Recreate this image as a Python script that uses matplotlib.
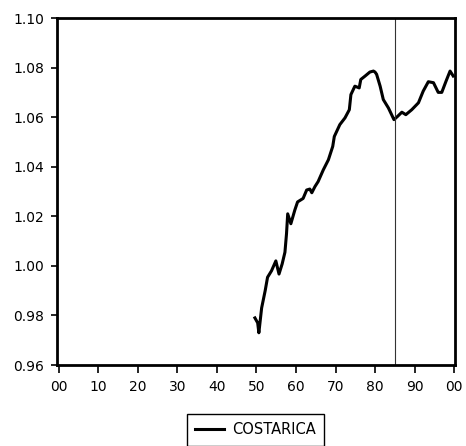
import matplotlib.pyplot as plt

plt.rcParams['font.family'] = ['DejaVu Sans']

years = [1949.6, 1950.3, 1950.6, 1951.3, 1952.2, 1952.8, 1953.8, 1954.9, 1955.7,
         1956.5, 1957.2, 1957.6, 1957.9, 1958.7, 1959.7, 1960.4, 1961.8, 1962.7,
         1963.5, 1964.0, 1964.8, 1965.6, 1966.9, 1968.2, 1969.3, 1969.7, 1971.1,
         1972.4, 1973.5, 1973.9, 1974.9, 1976.0, 1976.4, 1977.5, 1978.7, 1979.6,
         1980.0, 1980.4, 1981.3, 1982.1, 1983.4, 1984.8, 1985.7, 1986.8, 1987.8,
         1989.3, 1991.0, 1992.2, 1993.5, 1994.8, 1996.0, 1996.9, 1998.0, 1999.0,
         1999.8]
costarica = [0.979, 0.977, 0.973, 0.983, 0.990, 0.9954, 0.998, 1.002, 0.9967,
             1.0008, 1.0055, 1.013, 1.021, 1.017, 1.0225, 1.0258, 1.0272, 1.0306,
             1.0310, 1.0295, 1.032, 1.034, 1.0387, 1.0428, 1.0482, 1.0522, 1.057,
             1.0597, 1.063, 1.0691, 1.0725, 1.0718, 1.0752, 1.0766, 1.0782, 1.0786,
             1.0782, 1.0773, 1.0725, 1.0671, 1.0637, 1.059, 1.0603, 1.062, 1.061,
             1.063, 1.0658, 1.0705, 1.0743, 1.0739, 1.070, 1.070, 1.0746, 1.0786,
             1.0766]
break_year = 1985

xticks = list(range(1900, 2001, 10))
xlabels = ['00', '10', '20', '30', '40', '50', '60', '70', '80', '90', '00']
yticks = [0.96, 0.98, 1.00, 1.02, 1.04, 1.06, 1.08, 1.10]

fig = plt.figure(figsize=(4.66, 4.46), dpi=100)
ax = fig.add_axes([0.1223, 0.1816, 0.8541, 0.778])

ax.plot(years, costarica, color='black', lw=2.2, label='COSTARICA')
ax.axvline(break_year, color='#333333', lw=0.8)

ax.set_xlim(1899.5, 2000.25)
ax.set_ylim(0.96, 1.10)
ax.set_xticks(xticks)
ax.set_xticklabels(xlabels)
ax.set_yticks(yticks)
ax.set_yticklabels(['%.2f' % v for v in yticks])

for s in ax.spines.values():
    s.set_linewidth(2.0)
ax.tick_params(axis='x', direction='out', length=6, width=1.2,
               labelsize=10, colors='black', pad=5)
ax.tick_params(axis='y', direction='out', length=4, width=1.2,
               labelsize=10, colors='black', pad=5)

fig.legend(loc='center', bbox_to_anchor=(0.548, 0.036), fontsize=10.5,
           frameon=True, fancybox=False, edgecolor='black', handlelength=2.0,
           handletextpad=0.5, borderpad=0.6, framealpha=1)

fig.savefig('out.png', dpi=100)
